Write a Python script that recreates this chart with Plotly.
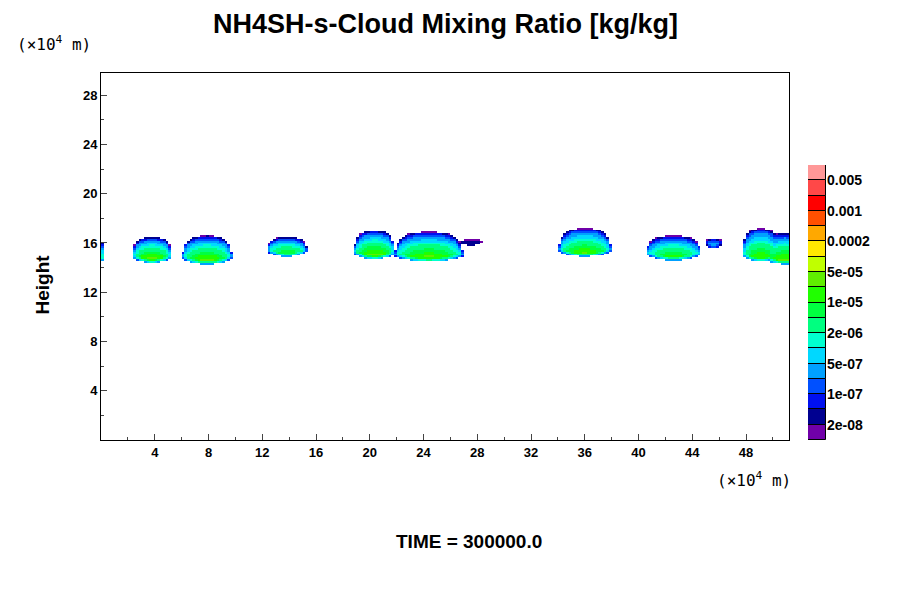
import numpy as np
import plotly.graph_objects as go

# cloud blobs (x in 1e4 m, heights in 1e4 m)
blob_x0 = [-1.2, 2.3, 6.0, 12.3, 18.8, 21.8, 26.5, 34.0, 40.5, 44.9, 47.7, 49.3]
blob_x1 = [0.3, 5.3, 9.8, 15.4, 21.9, 27.0, 28.6, 38.0, 44.7, 46.3, 50.5, 52.5]
blob_top = [16.4, 16.5, 16.6, 16.5, 17.0, 16.9, 16.3, 17.2, 16.6, 16.4, 17.2, 16.8]
blob_bot = [14.3, 14.4, 14.3, 14.9, 14.7, 14.5, 15.8, 14.9, 14.6, 15.6, 14.5, 14.3]
blob_peak = [-4.6, -4.2, -4.3, -4.6, -4.2, -4.3, -7.0, -4.4, -4.6, -6.0, -4.4, -4.3]

levels = [2e-08, 5e-08, 1e-07, 2e-07, 5e-07, 1e-06, 2e-06, 5e-06, 1e-05, 2e-05,
          5e-05, 1e-04, 2e-04, 5e-04, 1e-03, 2e-03, 5e-03]
colors = ["#7000a8", "#000090", "#0010f0", "#0050ff", "#00a0ff", "#00d8ff", "#00ffd0",
          "#00ff80", "#00ff40", "#20ff00", "#60ee00", "#c0ff00", "#ffe800", "#ffa800",
          "#ff5000", "#ff0000", "#ff4848", "#ff9898"]
tick_labels = ["2e-08", "1e-07", "5e-07", "2e-06", "1e-05", "5e-05", "0.0002", "0.001", "0.005"]

dx, dy = 0.2, 0.15
xs = np.arange(dx / 2, 51.2, dx)
ys = np.arange(dy / 2, 29.8, dy)
X, Y = np.meshgrid(xs, ys)
logq = np.full(X.shape, np.nan)
for x0, x1, tp, bt, pk in zip(blob_x0, blob_x1, blob_top, blob_bot, blob_peak):
    xc, hw = (x0 + x1) / 2, (x1 - x0) / 2
    u = np.clip((X - xc) / hw, -1, 1)
    inside_x = np.abs((X - xc) / hw) <= 1
    toploc = bt + (tp - bt) * np.sqrt(np.clip(1 - u ** 6, 0, 1)) * 0.85 + (tp - bt) * 0.15 * (1 - u ** 2)
    botloc = bt + 0.4 * u ** 2
    m = inside_x & (Y <= toploc) & (Y >= botloc)
    depth = np.clip((toploc - Y) / np.maximum(toploc - bt, 0.3), 0, 1)
    bedge = np.clip((Y - botloc) / 0.3, 0, 1)
    hfac = 1 - 0.3 * u ** 2
    val = -8.0 + (pk + 8.0) * (depth ** 0.55) * (0.4 + 0.6 * bedge) * hfac
    val = np.maximum(val, -7.9)
    cur = logq[m]
    logq[m] = np.where(np.isnan(cur), val[m], np.fmax(cur, val[m]))

bounds = np.log10(levels)
zi = np.where(np.isnan(logq), np.nan, np.digitize(logq, bounds) + 0.5)
n = len(colors)
cs = []
for i, c in enumerate(colors):
    cs.append([i / n, c]); cs.append([(i + 1) / n, c])

fig = go.Figure()
fig.add_trace(go.Heatmap(x=xs, y=ys, z=zi, zmin=0, zmax=n, colorscale=cs,
                         showscale=False, hoverinfo="skip"))
for i, c in enumerate(colors):
    fig.add_trace(go.Bar(x=[1], y=[1], base=[i], marker=dict(color=c, line=dict(color="black", width=1)),
                         xaxis="x2", yaxis="y2", width=1, showlegend=False, hoverinfo="skip"))

tf = dict(family="Liberation Sans", size=13, color="black", weight="bold")
tf2 = dict(family="Liberation Sans", size=14, color="black", weight="bold")
fig.update_layout(
    width=900, height=600, plot_bgcolor="white", paper_bgcolor="white",
    margin=dict(l=93, r=82, t=65, b=168, pad=0), showlegend=False, barmode="overlay", bargap=0,
    title=dict(text="<b>NH4SH-s-Cloud Mixing Ratio [kg/kg]</b>", x=0.486, xanchor="center", y=0.99,
               yanchor="top", font=dict(family="Liberation Sans", size=27, color="black")),
    xaxis=dict(domain=[0, 688 / 725], range=[0, 51.2], tickvals=list(range(4, 50, 4)), automargin=False,
               ticks="inside", ticklen=6, showgrid=False, zeroline=False, showline=True,
               linecolor="black", mirror=True, tickfont=tf,
               minor=dict(tickvals=list(range(2, 52, 2)), ticks="inside", ticklen=3)),
    yaxis=dict(range=[0, 29.8], tickvals=list(range(4, 29, 4)), ticks="inside", ticklen=6, automargin=False,
               showgrid=False, zeroline=False, showline=True, linecolor="black", mirror=True,
               tickfont=tf, minor=dict(tickvals=list(range(2, 30, 2)), ticks="inside", ticklen=3)),
    xaxis2=dict(domain=[707 / 725, 1], range=[0.5, 1.5], visible=False, anchor="y2", automargin=False),
    yaxis2=dict(domain=[0, 275 / 367], range=[0, n], side="right", anchor="x2", automargin=False,
                tickvals=list(range(1, n, 2)), ticktext=tick_labels, ticks="", showgrid=False,
                zeroline=False, showline=False, tickfont=tf2),
)
af = dict(family="DejaVu Sans Mono", size=16, color="black")
fig.add_annotation(text="(×10<sup>4</sup> m)", xref="paper", yref="paper", x=-0.119, y=1.115,
                   showarrow=False, xanchor="left", font=af)
fig.add_annotation(text="(×10<sup>4</sup> m)", xref="paper", yref="paper", x=0.847, y=-0.143,
                   showarrow=False, xanchor="left", font=af)
fig.add_annotation(text="<b>Height</b>", xref="paper", yref="paper", x=-0.098, y=0.425, textangle=-90,
                   showarrow=False, font=dict(family="Liberation Sans", size=19, color="black"))
fig.add_annotation(text="<b>TIME = 300000.0</b>", xref="paper", yref="paper", x=0.508, y=-0.31,
                   showarrow=False, font=dict(family="Liberation Sans", size=19, color="black"))
fig.write_html("out.html")
